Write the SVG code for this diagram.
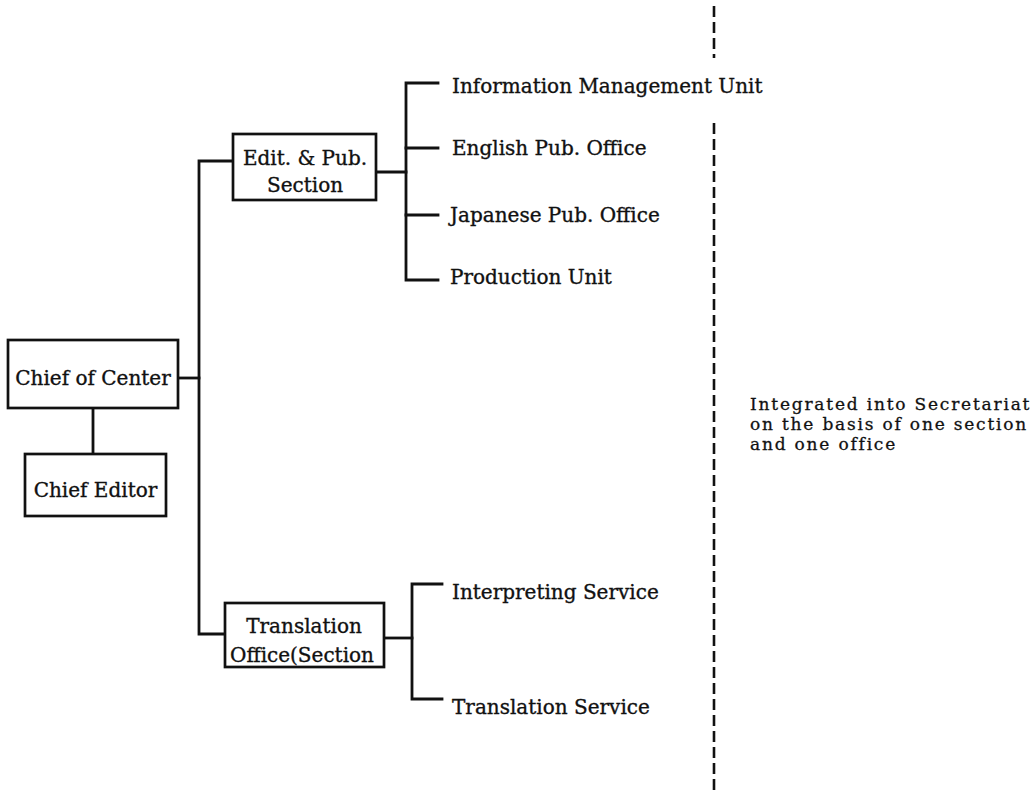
<svg xmlns="http://www.w3.org/2000/svg" width="1036" height="793" viewBox="0 0 1036 793">
  <style>
    .box { fill: #fff; stroke: #111; stroke-width: 2.7; }
    .wire { fill: none; stroke: #111; stroke-width: 2.8; stroke-linecap: square; }
    .lbl { font-family: "DejaVu Serif", "Liberation Serif", serif; font-size: 20px; fill: #111; stroke: #111; stroke-width: 0.35; }
    .mid { text-anchor: middle; }
    .note { font-family: "DejaVu Serif", "Liberation Serif", serif; font-size: 17px; letter-spacing: 1.8px; fill: #111; stroke: #111; stroke-width: 0.3; }
    .divider { fill: none; stroke: #111; stroke-width: 2.6; stroke-dasharray: 11 5; }
  </style>
  <rect width="1036" height="793" fill="#fff"/>

  <!-- connectors -->
  <g id="connectors">
    <!-- Chief of Center to Chief Editor -->
    <path class="wire" d="M93 408 V454"/>
    <!-- Chief of Center to main trunk -->
    <path class="wire" d="M178 378 H199"/>
    <!-- main trunk to the two sections -->
    <path class="wire" d="M233 161 H199 V634 H225"/>
    <!-- Edit. & Pub. Section branches -->
    <path class="wire" d="M376 172 H406"/>
    <path class="wire" d="M438 83 H406 V280 H438"/>
    <path class="wire" d="M406 148 H438"/>
    <path class="wire" d="M406 215 H438"/>
    <!-- Translation Office branches -->
    <path class="wire" d="M384 638 H412"/>
    <path class="wire" d="M442 584 H412 V699 H442"/>
  </g>

  <!-- dashed boundary -->
  <g id="boundary">
    <path class="divider" d="M714 6 V58"/>
    <path class="divider" d="M714 123 V793"/>
  </g>

  <g id="chief-of-center">
    <rect class="box" x="8" y="340" width="170" height="68"/>
    <text class="lbl mid" x="93" y="385">Chief of Center</text>
  </g>

  <g id="chief-editor">
    <rect class="box" x="25" y="454" width="141" height="62"/>
    <text class="lbl mid" x="95.5" y="497">Chief Editor</text>
  </g>

  <g id="edit-pub-section">
    <rect class="box" x="233" y="134" width="143" height="66"/>
    <text class="lbl mid" x="305" y="165">Edit. &amp; Pub.</text>
    <text class="lbl mid" x="305" y="192">Section</text>
  </g>

  <g id="translation-office">
    <rect class="box" x="225" y="603" width="159" height="64"/>
    <text class="lbl mid" x="304" y="633">Translation</text>
    <text class="lbl mid" x="302" y="662">Office(Section</text>
  </g>

  <g id="information-management-unit">
    <text class="lbl" x="452" y="93">Information Management Unit</text>
  </g>
  <g id="english-pub-office">
    <text class="lbl" x="452" y="155">English Pub. Office</text>
  </g>
  <g id="japanese-pub-office">
    <text class="lbl" x="450" y="222">Japanese Pub. Office</text>
  </g>
  <g id="production-unit">
    <text class="lbl" x="450" y="284">Production Unit</text>
  </g>
  <g id="interpreting-service">
    <text class="lbl" x="452" y="599">Interpreting Service</text>
  </g>
  <g id="translation-service">
    <text class="lbl" x="452" y="714">Translation Service</text>
  </g>

  <g id="note">
    <text class="note" x="750" y="410">Integrated into Secretariat</text>
    <text class="note" x="750" y="430">on the basis of one section</text>
    <text class="note" x="750" y="450">and one office</text>
  </g>
</svg>
